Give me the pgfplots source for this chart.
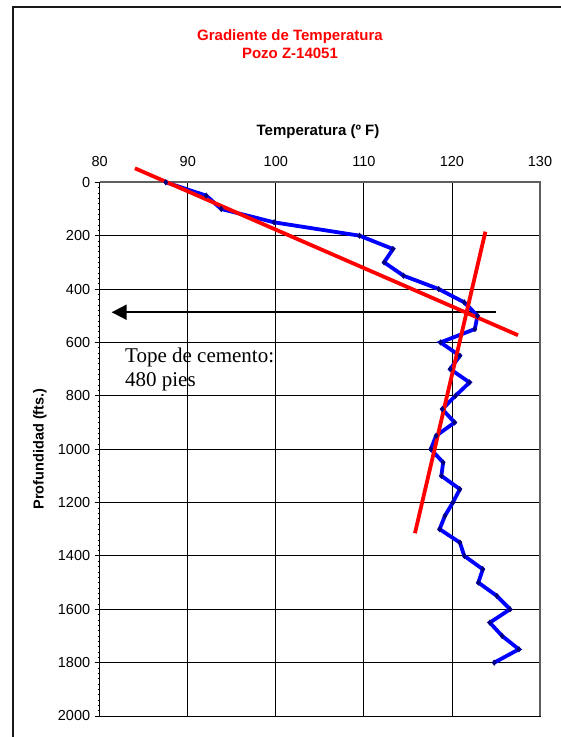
\documentclass[border=0pt]{standalone}
\usepackage{fontspec}
\setmainfont{Liberation Sans}
\newfontfamily\timesfont{Liberation Serif}
\usepackage{pgfplots}
\pgfplotsset{compat=1.18}
\usetikzlibrary{arrows.meta}
\definecolor{navy}{RGB}{0,0,128}
\definecolor{axgray}{RGB}{95,95,95}
\begin{document}
\begin{tikzpicture}[x=1bp,y=1bp]
\useasboundingbox (0,0) rectangle (561,737);
\draw[line width=2bp, black!90] (13,0) -- (13,730) -- (561,730);
\node[red, font=\bfseries\fontsize{15bp}{18.3bp}\selectfont, align=center] at (290,692.8) {Gradiente de Temperatura\\Pozo Z-14051};
\node[font=\bfseries\fontsize{15bp}{18bp}\selectfont] at (318,605.3) {Temperatura (º F)};
\node[rotate=90, font=\bfseries\fontsize{14.5bp}{18bp}\selectfont] at (40,288) {Profundidad (fts.)};
\begin{axis}[
  at={(99.7bp,21bp)}, anchor=south west,
  scale only axis, width=440.3bp, height=533.7bp,
  xmin=80, xmax=130, ymin=0, ymax=2000,
  y dir=reverse,
  clip=false,
  xtick={80,90,...,130},
  ytick={0,200,...,2000},
  minor y tick num=9,
  grid=major,
  major grid style={black, line width=0.8bp},
  axis line style={black, line width=0.8bp},
  xticklabel pos=upper,
  xtick style={draw=none},
  ytick pos=left,
  tick align=outside,
  major tick length=5bp,
  minor tick length=2bp,
  ytick style={black, line width=0.8bp},
  minor y tick style={line width=0.6bp},
  /pgf/number format/assume math mode=true,
  /pgf/number format/1000 sep={},
  ticklabel style={font=\fontsize{14.5bp}{17bp}\selectfont},
  xticklabel style={yshift=7bp},
  yticklabel style={xshift=-1bp},
]
\draw[axgray, line width=2bp] (rel axis cs:0,1) -- (rel axis cs:1,1) -- (rel axis cs:1,0);
\draw[black, line width=2bp, -{Triangle[length=15bp,width=15bp]}] (axis cs:125,487) -- (axis cs:81.36,487);
\addplot[blue, line width=3.8bp, mark=diamond*, mark size=2.8bp, mark options={fill=navy, draw=navy, line width=0.4bp}] coordinates {
(87.5,0)(92.1,50)(93.8,100)(99.8,150)(109.5,200)(113.3,250)(112.3,300)(114.5,350)
(118.5,400)(121.4,450)(122.9,500)(122.6,550)(118.7,600)(120.9,650)(119.8,700)(122.0,750)
(120.4,800)(118.9,850)(120.3,900)(118.2,950)(117.6,1000)(119.0,1050)(118.8,1100)(120.9,1150)
(120.1,1200)(119.2,1250)(118.6,1300)(120.9,1350)(121.4,1400)(123.5,1450)(123.0,1500)(125.1,1550)
(126.6,1600)(124.3,1650)(125.7,1700)(127.6,1750)(124.8,1800)
};
\addplot[red, line width=3.8bp] coordinates {(84.0,-52.5)(127.5,573)};
\addplot[red, line width=3.8bp] coordinates {(123.8,185)(115.8,1315)};
\node[anchor=base west, inner sep=0pt, font=\timesfont\fontsize{21bp}{24bp}\selectfont] at (axis cs:82.87,674.5) {Tope de cemento:};
\node[anchor=base west, inner sep=0pt, font=\timesfont\fontsize{21bp}{24bp}\selectfont] at (axis cs:82.87,766) {480 pies};
\end{axis}
\end{tikzpicture}
\end{document}
